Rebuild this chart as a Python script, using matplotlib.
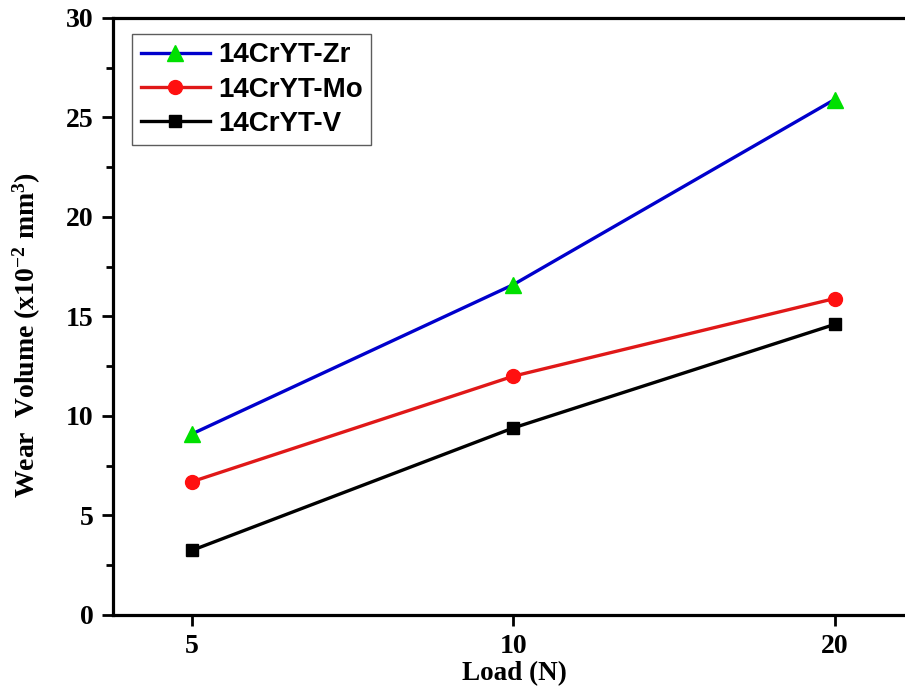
import matplotlib
matplotlib.use("Agg")
import matplotlib.pyplot as plt
from matplotlib.ticker import MultipleLocator

# Wear volume (x10^-2 mm^3) at each applied load
loads = ["5", "10", "20"]
wear_zr = [9.1, 16.6, 25.9]
wear_mo = [6.7, 12.0, 15.9]
wear_v = [3.25, 9.4, 14.6]

series_labels = ["14CrYT-Zr", "14CrYT-Mo", "14CrYT-V"]

serif = ["Liberation Serif", "DejaVu Serif"]
sans = ["Liberation Sans", "DejaVu Sans"]

plt.rcParams["mathtext.fontset"] = "custom"
plt.rcParams["mathtext.rm"] = "Liberation Serif:bold"
plt.rcParams["mathtext.bf"] = "Liberation Serif:bold"
plt.rcParams["mathtext.it"] = "Liberation Serif:bold"

fig = plt.figure(figsize=(9.05, 6.91), dpi=100)
ax = fig.add_axes([0.1249, 0.110, 0.886, 0.864])

x = range(len(loads))
ax.plot(x, wear_zr, color="#0000cc", lw=2.4, marker="^", ms=11,
        mfc="#00e000", mec="#00e000", label=series_labels[0])
ax.plot(x, wear_mo, color="#e01818", lw=2.4, marker="o", ms=10,
        mfc="#ff1010", mec="#ff1010", label=series_labels[1])
ax.plot(x, wear_v, color="#000000", lw=2.4, marker="s", ms=8,
        mfc="#000000", mec="#000000", label=series_labels[2])

ax.set_xlim(-0.246, 2.25)
ax.set_ylim(0, 30)
ax.set_xticks(list(x))
ax.set_xticklabels(loads)
ax.yaxis.set_major_locator(MultipleLocator(5))
ax.yaxis.set_minor_locator(MultipleLocator(2.5))

for side in ["left", "bottom", "top"]:
    ax.spines[side].set_linewidth(2.3)
ax.spines["right"].set_visible(False)

ax.tick_params(axis="both", which="major", direction="out", length=8,
               width=2.0)
ax.tick_params(axis="y", which="major", pad=6)
ax.tick_params(axis="x", which="major", pad=6)
ax.tick_params(axis="y", which="minor", direction="out", length=5, width=2.0)
ax.tick_params(top=False, right=False)

for lab in ax.get_xticklabels() + ax.get_yticklabels():
    lab.set_fontfamily(serif)
    lab.set_fontweight("bold")
    lab.set_fontsize(20)

ax.set_xlabel("Load (N)", fontfamily=serif, fontweight="bold", fontsize=19.5,
              labelpad=1)
ax.set_ylabel(r"Wear  Volume (x10$^{\mathrm{-2}}$ mm$^{\mathrm{3}}$)",
              fontfamily=serif, fontweight="bold", fontsize=20)
ax.yaxis.set_label_coords(-0.087, 0.469)

leg = ax.legend(loc="upper left", bbox_to_anchor=(0.024, 0.973),
                prop={"family": sans, "weight": "bold", "size": 20},
                frameon=True, fancybox=False, edgecolor="#333333",
                handlelength=2.5, handletextpad=0.3, labelspacing=0.3,
                borderpad=0.3, borderaxespad=0)
leg.get_frame().set_linewidth(1.0)

fig.savefig("out.png", dpi=100)
